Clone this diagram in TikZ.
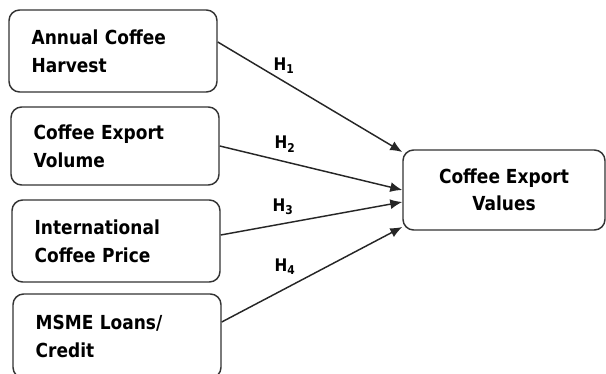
\documentclass[tikz,border=0pt]{standalone}
\usepackage{fontspec}
\setmainfont{DejaVu Sans}[FakeStretch=0.88]
\usetikzlibrary{arrows.meta}
\definecolor{boxline}{HTML}{333333}

\tikzset{
  factor/.style={draw=boxline, line width=1.1pt, rounded corners=8pt,
    minimum width=156pt, minimum height=61.5pt, inner xsep=17pt,
    text width=122pt, align=left,
    font=\fontsize{14.5}{21}\selectfont\bfseries},
  outcome/.style={draw=boxline, line width=1.1pt, rounded corners=8pt,
    minimum width=151.5pt, minimum height=60pt, align=center,
    font=\fontsize{14.5}{20.5}\selectfont\bfseries},
  hyp/.style={draw=black!85, line width=1.1pt, -{Latex[length=9pt,width=7.5pt]}},
  hlabel/.style={font=\fontsize{13}{15}\selectfont\bfseries}
}

\begin{document}
\begin{tikzpicture}[x=0.75pt, y=-0.75pt]
    \clip (0,0) rectangle (606,374);

    \node[factor] (harvest) at (113, 51) {Annual Coffee\\Harvest};
    \node[factor, minimum height=58.5pt] (volume) at (115, 146)
      {Coffee Export\\Volume};
    \node[factor] (price) at (116, 241) {International\\Coffee Price};
    \node[factor, minimum height=63pt] (credit) at (117, 336)
      {MSME Loans/\\Credit};

    \node[outcome] (values) at (504, 190) {Coffee Export\\Values};

    \draw[hyp] ([yshift=6.75pt]harvest.east) -- ([yshift=28.5pt]values.west);
    \draw[hyp] (volume.east) -- (values.west);
    \draw[hyp] ([yshift=4.5pt]price.east) -- ([yshift=-9pt]values.west);
    \draw[hyp] ([yshift=10.5pt]credit.east) -- ([yshift=-27.75pt]values.west);

    \node[hlabel] (h1) at (284, 66) {H\textsubscript{1}};
    \node[hlabel] (h2) at (285, 144) {H\textsubscript{2}};
    \node[hlabel] (h3) at (283, 207) {H\textsubscript{3}};
    \node[hlabel] (h4) at (285, 267) {H\textsubscript{4}};
  \end{tikzpicture}
\end{document}
